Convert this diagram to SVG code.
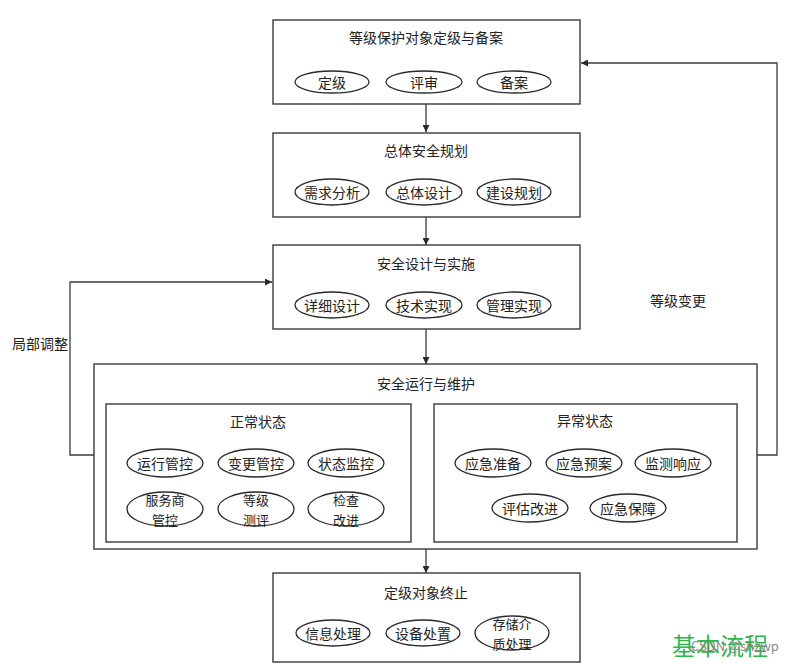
<svg xmlns="http://www.w3.org/2000/svg" width="804" height="664" viewBox="0 0 804 664">
<style>
text{font-family:"Noto Sans CJK SC","Noto Sans",sans-serif;font-size:14px;fill:#222;text-anchor:middle;dominant-baseline:central}
.two{font-size:13px}
.box{fill:#fff;stroke:#3a3a3a;stroke-width:1.4}
.ell{fill:#fff;stroke:#2a2a2a;stroke-width:1.3}
.con{fill:none;stroke:#3a3a3a;stroke-width:1.3}
</style>
<defs>
<marker id="ah" viewBox="0 0 10 10" refX="10" refY="5" markerWidth="7" markerHeight="7" markerUnits="userSpaceOnUse" orient="auto">
<path d="M0,0 L10,5 L0,10 z" fill="#2a2a2a"/>
</marker>
</defs>
<rect width="804" height="664" fill="#fff"/>

<g id="connectors">
<line class="con" x1="426" y1="104" x2="426" y2="132" marker-end="url(#ah)"/>
<line class="con" x1="426" y1="217" x2="426" y2="245" marker-end="url(#ah)"/>
<line class="con" x1="426" y1="329" x2="426" y2="364" marker-end="url(#ah)"/>
<line class="con" x1="426" y1="549" x2="426" y2="573" marker-end="url(#ah)"/>
<polyline class="con" points="757,455 777,455 777,63 581,63" marker-end="url(#ah)"/>
<polyline class="con" points="94,455 70,455 70,282 272,282" marker-end="url(#ah)"/>
<text x="678" y="300">等级变更</text>
<text x="40" y="343">局部调整</text>
</g>

<g id="node-dingji">
<rect class="box" x="273" y="20" width="307" height="84"/>
<text x="426" y="37">等级保护对象定级与备案</text>
<ellipse class="ell" cx="332" cy="82" rx="37" ry="11"/><text x="332" y="82">定级</text>
<ellipse class="ell" cx="424" cy="82" rx="38" ry="11"/><text x="424" y="82">评审</text>
<ellipse class="ell" cx="514" cy="82" rx="37" ry="11"/><text x="514" y="82">备案</text>
</g>

<g id="node-guihua">
<rect class="box" x="273" y="133" width="307" height="84"/>
<text x="426" y="150">总体安全规划</text>
<ellipse class="ell" cx="332" cy="192" rx="37" ry="13"/><text x="332" y="192">需求分析</text>
<ellipse class="ell" cx="424" cy="192" rx="38" ry="13"/><text x="424" y="192">总体设计</text>
<ellipse class="ell" cx="514" cy="192" rx="37" ry="13"/><text x="514" y="192">建设规划</text>
</g>

<g id="node-sheji">
<rect class="box" x="273" y="245" width="307" height="84"/>
<text x="426" y="263">安全设计与实施</text>
<ellipse class="ell" cx="332" cy="305" rx="37" ry="13"/><text x="332" y="305">详细设计</text>
<ellipse class="ell" cx="424" cy="305" rx="38" ry="13"/><text x="424" y="305">技术实现</text>
<ellipse class="ell" cx="514" cy="305" rx="37" ry="13"/><text x="514" y="305">管理实现</text>
</g>

<g id="node-yunxing">
<rect class="box" x="94" y="364" width="663" height="185"/>
<text x="426" y="383">安全运行与维护</text>
</g>

<g id="node-zhengchang">
<rect class="box" x="106" y="404" width="305" height="138"/>
<text x="258" y="421">正常状态</text>
<ellipse class="ell" cx="165" cy="463" rx="38" ry="14"/><text x="165" y="463">运行管控</text>
<ellipse class="ell" cx="256" cy="463" rx="38" ry="14"/><text x="256" y="463">变更管控</text>
<ellipse class="ell" cx="346" cy="463" rx="38" ry="14"/><text x="346" y="463">状态监控</text>
<ellipse class="ell" cx="165" cy="509" rx="38" ry="17"/><text class="two" x="165" y="499.5">服务商<tspan x="165" dy="19">管控</tspan></text>
<ellipse class="ell" cx="256" cy="509" rx="38" ry="17"/><text class="two" x="256" y="499.5">等级<tspan x="256" dy="19">测评</tspan></text>
<ellipse class="ell" cx="346" cy="509" rx="38" ry="17"/><text class="two" x="346" y="499.5">检查<tspan x="346" dy="19">改进</tspan></text>
</g>

<g id="node-yichang">
<rect class="box" x="434" y="404" width="303" height="138"/>
<text x="585" y="420">异常状态</text>
<ellipse class="ell" cx="493" cy="463" rx="38" ry="14"/><text x="493" y="463">应急准备</text>
<ellipse class="ell" cx="584" cy="463" rx="38" ry="14"/><text x="584" y="463">应急预案</text>
<ellipse class="ell" cx="673" cy="463" rx="38" ry="14"/><text x="673" y="463">监测响应</text>
<ellipse class="ell" cx="530" cy="508" rx="38" ry="14"/><text x="530" y="508">评估改进</text>
<ellipse class="ell" cx="628" cy="508" rx="38" ry="14"/><text x="628" y="508">应急保障</text>
</g>

<g id="node-zhongzhi">
<rect class="box" x="273" y="573" width="307" height="89"/>
<text x="426" y="592">定级对象终止</text>
<ellipse class="ell" cx="333" cy="633" rx="37" ry="13"/><text x="333" y="633">信息处理</text>
<ellipse class="ell" cx="423" cy="633" rx="37" ry="13"/><text x="423" y="633">设备处置</text>
<ellipse class="ell" cx="512" cy="633" rx="37" ry="17"/><text class="two" x="512" y="623.5">存储介<tspan x="512" dy="19">质处理</tspan></text>
</g>

<g id="watermark">
<text x="720" y="644" style="font-size:24px;fill:#2fb54a">基本流程</text>
<text x="735" y="645" style="font-size:13px;fill:#888">CSDN @shzwp</text>
</g>
</svg>
